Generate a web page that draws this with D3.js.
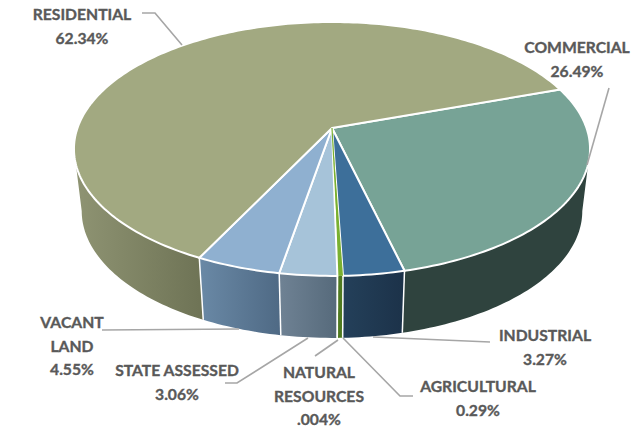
<!DOCTYPE html>
<html>
<head>
<meta charset="utf-8">
<script src="https://cdn.jsdelivr.net/npm/d3@7"></script>
<style>
  html, body { margin: 0; padding: 0; background: #fff; }
  svg { display: block; }
  text { font-family: Lato, "Open Sans", sans-serif; font-weight: 700; font-size: 15.7px; fill: #595959; stroke: #595959; stroke-width: 0.35px; text-anchor: middle; }
</style>
</head>
<body>
<script>
// size variables
var width = 631, height = 428;

// data, clockwise from the residential / commercial boundary
var categories = ['COMMERCIAL', 'INDUSTRIAL', 'AGRICULTURAL', 'NATURAL RESOURCES', 'STATE ASSESSED', 'VACANT LAND', 'RESIDENTIAL'];
var values = [26.49, 3.27, 0.29, 0.004, 3.06, 4.55, 62.34];
var valueLabels = ['26.49%', '3.27%', '0.29%', '.004%', '3.06%', '4.55%', '62.34%'];

// colours
var topCols = ['#77a396', '#3d6f9a', '#7ab030', '#7ab030', '#a6c3d9', '#8fb0d0', '#a2a981'];
var wallFrom = ['#2f433e', '#24405a', '#4f7a20', '#4f7a20', '#6f8294', '#6a89a6', '#8f9473'];
var wallTo = ['#2f433e', '#1c3249', '#4f7a20', '#4f7a20', '#566a7b', '#4f6a85', '#6f7456'];

// label text lines and where they sit (same order as categories)
var labelLines = [['COMMERCIAL'], ['INDUSTRIAL'], ['AGRICULTURAL'], ['NATURAL', 'RESOURCES'], ['STATE ASSESSED'], ['VACANT', 'LAND'], ['RESIDENTIAL']];
var labelX = [577, 545, 478, 319, 177, 72, 82];
var labelY = [53, 341, 392, 378, 376, 328, 20];
var leaders = [
    [[609, 88], [587, 165]],
    [[373, 337], [490, 342]],
    [[343, 338], [400, 396], [413, 396]],
    [[315, 356], [338, 340]],
    [[225, 383], [237, 383], [308, 338]],
    [[102, 330], [239, 329]],
    [[142, 13], [155, 13], [182, 45]]
];

var svg = d3.select('body').append('svg').attr('width', width).attr('height', height);
var defs = svg.append('defs');

// pie tilted in perspective, so the apex is above the middle of the ellipse
var cx = 332, cy = 128, k = 0.165, ax = 254.5, ay = 123.5;
var depth = 62, shrink = 0.97;

function project(angle) {
    // d3 angles: 0 at the top, going clockwise
    var x = Math.sin(angle), y = -Math.cos(angle);
    var w = 1 - k * y;
    return [cx + ax * x / w, cy + ay * y / w];
}
function projectBottom(angle) {
    var p = project(angle);
    return [cx + (p[0] - cx) * shrink, p[1] + depth];
}
function steps(a0, a1) {
    var n = Math.max(2, Math.ceil((a1 - a0) / 0.02));
    return d3.range(n + 1).map((i) => a0 + (a1 - a0) * i / n);
}

var line = d3.line();
var rad = Math.PI / 180;

var arcs = d3.pie().sort(null).value((d) => d)
    .startAngle(70.8 * rad).endAngle(70.8 * rad + 2 * Math.PI)(values);

// side wall, between the widest points of the ellipse
var wallMin = 99.5 * rad, wallMax = 260.5 * rad;
arcs.forEach(function(d, i) {
    var a0 = Math.max(d.startAngle, wallMin), a1 = Math.min(d.endAngle, wallMax);
    if (a1 <= a0) return;
    var top = steps(a0, a1).map(project);
    var bottom = steps(a0, a1).map(projectBottom).reverse();
    var xs = top.map((p) => p[0]);
    var grad = defs.append('linearGradient').attr('id', 'wall' + i)
        .attr('gradientUnits', 'userSpaceOnUse')
        .attr('x1', d3.min(xs)).attr('x2', d3.max(xs)).attr('y1', 0).attr('y2', 0);
    grad.append('stop').attr('offset', 0).attr('stop-color', wallFrom[i]);
    grad.append('stop').attr('offset', 1).attr('stop-color', wallTo[i]);
    svg.append('path')
        .attr('d', line(top.concat(bottom)) + 'Z')
        .attr('fill', 'url(#wall' + i + ')')
        .attr('stroke', 'none');
});

// white seams between the front walls
arcs.forEach(function(d) {
    if (d.startAngle < wallMin || d.startAngle > wallMax) return;
    svg.append('path')
        .attr('d', line([project(d.startAngle), projectBottom(d.startAngle)]))
        .attr('stroke', '#fff').attr('stroke-width', 1.5).attr('fill', 'none');
});

// top face
arcs.forEach(function(d, i) {
    var pts = [[cx, cy]].concat(steps(d.startAngle, d.endAngle).map(project));
    svg.append('path')
        .attr('d', line(pts) + 'Z')
        .attr('fill', topCols[i])
        .attr('stroke', i == 2 || i == 3 ? 'none' : '#fff')
        .attr('stroke-width', 2)
        .attr('stroke-linejoin', 'round');
});

// thin agricultural sliver goes on top of the white seams
var ag = arcs[2];
svg.append('path')
    .attr('d', line([[cx, cy], project((ag.startAngle + ag.endAngle) / 2)]))
    .attr('stroke', topCols[2]).attr('stroke-width', 1.2);

// leader lines
leaders.forEach(function(pts) {
    svg.append('path')
        .attr('d', line(pts))
        .attr('fill', 'none')
        .attr('stroke', '#a6a6a6')
        .attr('stroke-width', 1.6);
});

// labels
categories.forEach(function(c, i) {
    var rows = labelLines[i].concat([valueLabels[i]]);
    rows.forEach(function(row, j) {
        svg.append('text')
            .attr('x', labelX[i])
            .attr('y', labelY[i] + j * 23.5)
            .text(row);
    });
});
</script>
</body>
</html>
